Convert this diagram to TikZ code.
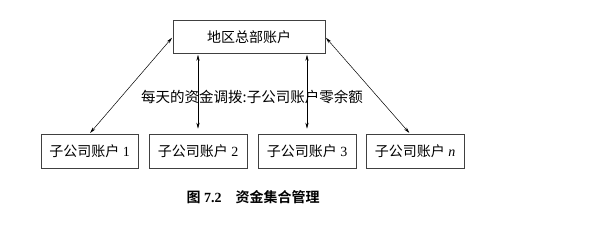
\documentclass[tikz,border=0pt]{standalone}
\usepackage{fontspec}
\setmainfont{Liberation Serif}
\newfontfamily\cjk{Noto Sans CJK SC}
\newfontfamily\cjkb{Noto Sans CJK SC Bold}
\usetikzlibrary{arrows.meta}
\begin{document}
\begin{tikzpicture}[x=1pt,y=-1pt,
  acct/.style={draw=black!75,line width=0.6pt,inner sep=0pt,minimum height=33pt,font=\fontsize{14}{16}\selectfont},
  link/.style={line width=0.5pt,{Stealth[length=6pt,width=3.2pt]}-{Stealth[length=6pt,width=3.2pt]}}]
\useasboundingbox (0,0) rectangle (613,228);
\node[acct,minimum width=152pt] (hq) at (249,37) {\cjk 地区总部账户};
\node[acct,minimum width=97pt,minimum height=34pt] (s1) at (89.5,151) {{\cjk 子公司账户}\ 1};
\node[acct,minimum width=98pt,minimum height=34pt] (s2) at (198,151) {{\cjk 子公司账户}\ 2};
\node[acct,minimum width=98pt,minimum height=34pt] (s3) at (307,151) {{\cjk 子公司账户}\ 3};
\node[acct,minimum width=98pt,minimum height=34pt] (s4) at (415,151) {{\cjk 子公司账户}\ \textit{n}};
\node[font=\fontsize{14.5}{16}\selectfont] (lbl) at (252,97) {\cjk 每天的资金调拨:子公司账户零余额};
\node[font=\fontsize{14}{16}\selectfont] (cap) at (253,197) {{\cjkb 图}\ \textbf{7.2}\quad{\cjkb 资金集合管理}};
\draw[link,shorten >=1pt,shorten <=1pt] (s1.north) -- (hq.west);
\draw[link,shorten >=1pt,shorten <=1pt] (s4.north -| 410,0) -- (hq.east);
\draw[link,shorten >=1pt,shorten <=5pt] (s2.north) -- (s2.north |- hq.south);
\draw[link,shorten >=1pt,shorten <=5pt] (s3.north) -- (s3.north |- hq.south);
\end{tikzpicture}
\end{document}
